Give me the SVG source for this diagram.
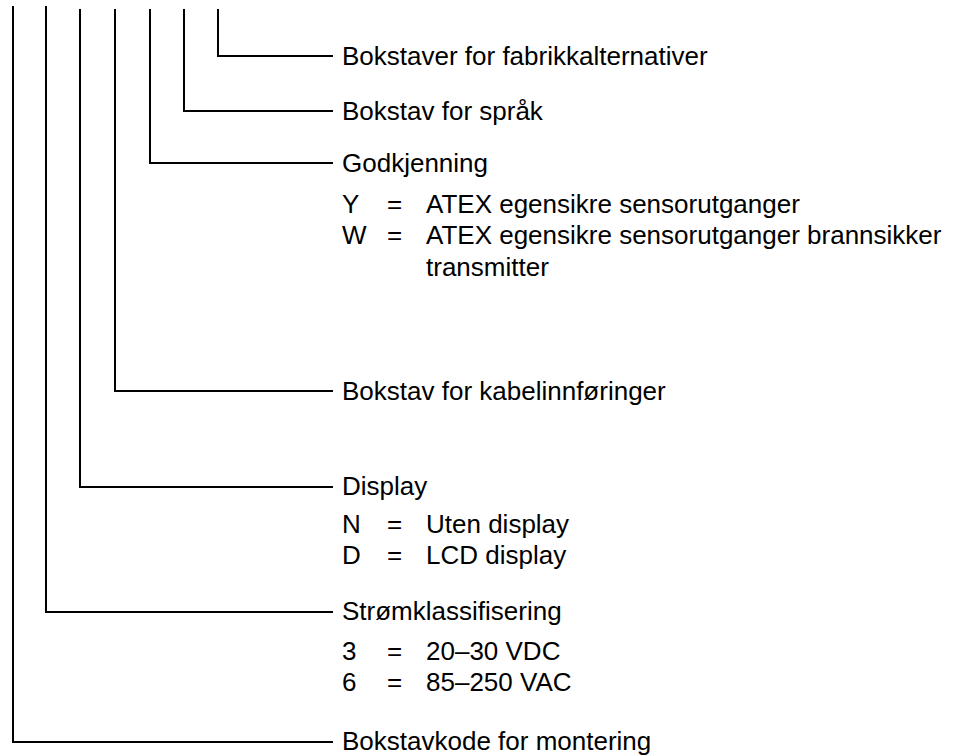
<svg xmlns="http://www.w3.org/2000/svg" width="964" height="756" viewBox="0 0 964 756">
<style>
.c{fill:none;stroke:#000;stroke-width:2}
text{font-family:"Liberation Sans",Arial,Helvetica,sans-serif;font-size:26px;fill:#000}
</style>
<rect width="964" height="756" fill="#fff"/>
<g id="connectors">
<polyline class="c" points="218,9 218,56 333,56"/>
<polyline class="c" points="184,9 184,111 333,111"/>
<polyline class="c" points="150,9 150,163 333,163"/>
<polyline class="c" points="115,9 115,391 333,391"/>
<polyline class="c" points="80,9 80,487 333,487"/>
<polyline class="c" points="46,6 46,612 333,612"/>
<polyline class="c" points="13,6 13,742 333,742"/>
</g>
<g id="n-fabrikk"><text x="342" y="65">Bokstaver for fabrikkalternativer</text></g>
<g id="n-sprak"><text x="342" y="120">Bokstav for språk</text></g>
<g id="n-godkjenning">
<text x="342" y="172">Godkjenning</text>
<text x="342" y="213">Y</text><text x="387" y="213">=</text><text x="426" y="213">ATEX egensikre sensorutganger</text>
<text x="342" y="244">W</text><text x="387" y="244">=</text><text x="426" y="244">ATEX egensikre sensorutganger brannsikker</text>
<text x="426" y="276">transmitter</text>
</g>
<g id="n-kabel"><text x="342" y="400">Bokstav for kabelinnføringer</text></g>
<g id="n-display">
<text x="342" y="495">Display</text>
<text x="342" y="533">N</text><text x="387" y="533">=</text><text x="426" y="533">Uten display</text>
<text x="342" y="564">D</text><text x="387" y="564">=</text><text x="426" y="564">LCD display</text>
</g>
<g id="n-strom">
<text x="342" y="620">Strømklassifisering</text>
<text x="342" y="660">3</text><text x="387" y="660">=</text><text x="426" y="660">20–30 VDC</text>
<text x="342" y="691">6</text><text x="387" y="691">=</text><text x="426" y="691">85–250 VAC</text>
</g>
<g id="n-montering"><text x="342" y="750">Bokstavkode for montering</text></g>
</svg>
